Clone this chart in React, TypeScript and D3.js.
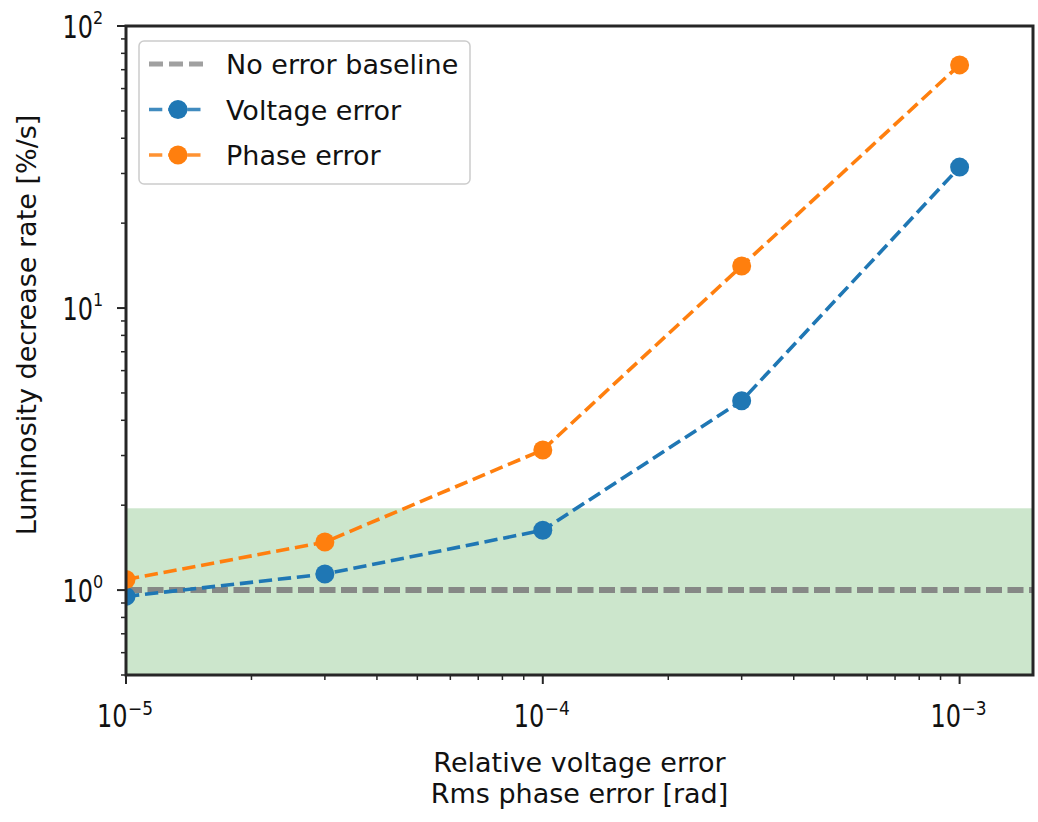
import React from "react";
import * as d3 from "d3";

const xValues = [1e-5, 3e-5, 1e-4, 3e-4, 1e-3];
const voltageError = [0.95, 1.14, 1.63, 4.69, 31.6];
const phaseError = [1.09, 1.48, 3.14, 14.1, 72.8];
const baselineValue = 1.0;
const bandLimit = 1.95;
const xMajorTicks = [1e-5, 1e-4, 1e-3];
const xMajorExp = ["−5", "−4", "−3"];
const yMajorTicks = [1, 10, 100];
const yMajorExp = ["0", "1", "2"];
const legendLabels = ["No error baseline", "Voltage error", "Phase error"];

const W = 1038;
const H = 822;
const L = 126, R = 1033, T = 26, B = 675;
const FONT = "DejaVu Sans, sans-serif";
const BLUE = "#1f77b4";
const ORANGE = "#ff7f0e";
const GRAY = "#808080";
const SY = 1.35;

export default function App() {
  const x = d3.scaleLog().domain([1e-5, 1.5e-3]).range([L, R]);
  const y = d3.scaleLog().domain([0.5, 100]).range([B, T]);

  const minorX: number[] = [];
  for (const d of [1e-5, 1e-4, 1e-3]) for (let k = 2; k <= 9; k++) {
    const v = d * k;
    if (v <= 1.5e-3) minorX.push(v);
  }
  const minorY: number[] = [];
  for (const d of [0.1, 1, 10]) for (let k = 2; k <= 9; k++) {
    const v = d * k;
    if (v >= 0.5 && v <= 100 && !(d === 0.1 && k < 5)) minorY.push(v);
  }

  const line = d3.line<number>().x((_, i) => x(xValues[i])).y((v) => y(v));
  const series = [
    { vals: voltageError, color: BLUE },
    { vals: phaseError, color: ORANGE },
  ];

  return (
    <svg width={W} height={H} style={{ position: "absolute", left: 0, top: 0, background: "#fff" }} fontFamily={FONT}>
      <defs>
        <clipPath id="plotclip">
          <rect x={L} y={T} width={R - L} height={B - T} />
        </clipPath>
      </defs>
      <rect x={0} y={0} width={W} height={H} fill="#fff" />
      <g clipPath="url(#plotclip)">
        <rect x={L} y={y(bandLimit)} width={R - L} height={B - y(bandLimit)} fill="green" fillOpacity={0.2} />
        <line x1={L} x2={R} y1={y(baselineValue)} y2={y(baselineValue)} stroke={GRAY} strokeOpacity={0.92}
          strokeWidth={6} strokeDasharray="16,5.5" />
        {series.map((s, si) => (
          <g key={si}>
            <path d={line(s.vals) || ""} fill="none" stroke={s.color} strokeWidth={3.6} strokeDasharray="13.3,5.8" />
            {s.vals.map((v, i) => (
              <circle key={i} cx={x(xValues[i])} cy={y(v)} r={9.5} fill={s.color} />
            ))}
          </g>
        ))}
      </g>
      {/* spines */}
      <rect x={L} y={T} width={R - L} height={B - T} fill="none" stroke="#262626" strokeWidth={3} />
      {/* x ticks */}
      {xMajorTicks.map((t, i) => (
        <g key={"xm" + i}>
          <line x1={x(t)} x2={x(t)} y1={B} y2={B + 9} stroke="#262626" strokeWidth={2} />
          <text transform={`translate(${x(t) - 29},727) scale(1,${SY})`} fontSize={24} fill="#111">10</text>
          <text transform={`translate(${x(t) + 2},715) scale(1,1.1)`} fontSize={17} fill="#111">{xMajorExp[i]}</text>
        </g>
      ))}
      {minorX.map((t, i) => (
        <line key={"xn" + i} x1={x(t)} x2={x(t)} y1={B} y2={B + 5} stroke="#262626" strokeWidth={1.5} />
      ))}
      {/* y ticks */}
      {yMajorTicks.map((t, i) => (
        <g key={"ym" + i}>
          <line x1={L - 9} x2={L} y1={y(t)} y2={y(t)} stroke="#262626" strokeWidth={2} />
          <text transform={`translate(${93},${y(t) + 12}) scale(1,${SY})`} fontSize={24} textAnchor="end" fill="#111">10</text>
          <text transform={`translate(${93},${y(t) - 2}) scale(1,1.1)`} fontSize={16} textAnchor="start" fill="#111">
            {yMajorExp[i]}
          </text>
        </g>
      ))}
      {minorY.map((t, i) => (
        <line key={"yn" + i} x1={L - 5} x2={L} y1={y(t)} y2={y(t)} stroke="#262626" strokeWidth={1.5} />
      ))}
      {/* axis labels */}
      <text x={(L + R) / 2} y={772} fontSize={27} textAnchor="middle" fill="#111">Relative voltage error</text>
      <text x={(L + R) / 2} y={803} fontSize={27} textAnchor="middle" fill="#111">Rms phase error [rad]</text>
      <text transform={`translate(36,325) rotate(-90)`} fontSize={27} textAnchor="middle" fill="#111">
        Luminosity decrease rate [%/s]
      </text>
      {/* legend */}
      <g>
        <rect x={139} y={41} width={331} height={143} rx={5} fill="#fff" fillOpacity={0.85} stroke="#cccccc" strokeWidth={1.5} />
        {legendLabels.map((lab, i) => {
          const ly = 64 + i * 45.5;
          const color = i === 0 ? GRAY : i === 1 ? BLUE : ORANGE;
          return (
            <g key={lab}>
              <line x1={149} x2={203} y1={ly} y2={ly} stroke={color} strokeWidth={i === 0 ? 5 : 3.6}
                strokeOpacity={i === 0 ? 0.75 : 0.85}
                strokeDasharray={i === 0 ? "14,6" : "13.3,5.8"} />
              {i > 0 && <circle cx={178} cy={ly} r={9.5} fill={color} />}
              <text x={226} y={ly + 10} fontSize={27} fill="#111">{lab}</text>
            </g>
          );
        })}
      </g>
    </svg>
  );
}
